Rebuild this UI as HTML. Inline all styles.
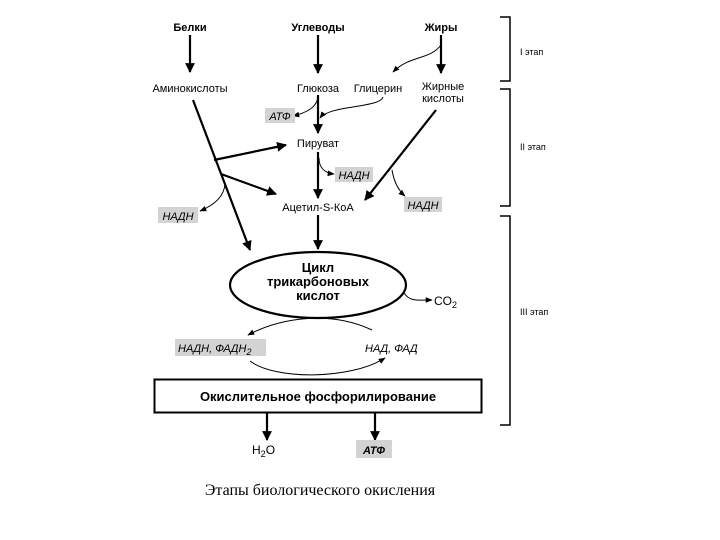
<!DOCTYPE html>
<html><head><meta charset="utf-8"><style>
html,body{margin:0;padding:0;background:#fff;}
svg{display:block;}
text{font-family:"Liberation Sans","DejaVu Sans",sans-serif;fill:#000;}
.b{font-weight:bold;}
.i{font-style:italic;}
</style></head><body>
<svg width="720" height="540" viewBox="0 0 720 540" xmlns="http://www.w3.org/2000/svg">
<defs>
<marker id="a" viewBox="0 0 10 10" refX="9" refY="5" markerWidth="4.5" markerHeight="4.5" orient="auto"><path d="M0,0L10,5L0,10z" fill="#000"/></marker>
<marker id="s" viewBox="0 0 10 10" refX="9" refY="5" markerWidth="7" markerHeight="7" orient="auto"><path d="M0,1L10,5L0,9z" fill="#000"/></marker>
</defs>
<g font-size="11">
<text x="190" y="31" text-anchor="middle" class="b">Белки</text>
<text x="318" y="31" text-anchor="middle" class="b">Углеводы</text>
<text x="441" y="31" text-anchor="middle" class="b">Жиры</text>
<text x="190" y="92" text-anchor="middle">Аминокислоты</text>
<text x="318" y="92" text-anchor="middle">Глюкоза</text>
<text x="378" y="92" text-anchor="middle">Глицерин</text>
<text x="443" y="90" text-anchor="middle">Жирные</text>
<text x="443" y="102" text-anchor="middle">кислоты</text>
<text x="318" y="147" text-anchor="middle">Пируват</text>
<text x="318" y="211" text-anchor="middle">Ацетил-S-КоА</text>
</g>
<g stroke="#000" fill="none">
<line x1="190" y1="35" x2="190" y2="72" stroke-width="2.2" marker-end="url(#a)"/>
<line x1="318" y1="35" x2="318" y2="73" stroke-width="2.2" marker-end="url(#a)"/>
<line x1="441" y1="35" x2="441" y2="73" stroke-width="2.2" marker-end="url(#a)"/>
<path d="M441,45 C430,60 410,55 393,72" stroke-width="1" marker-end="url(#s)"/>
<path d="M318,95 C318,108 305,113 293,116" stroke-width="1" marker-end="url(#s)"/>
<path d="M383,97 C380,108 330,105 320,118" stroke-width="1" marker-end="url(#s)"/>
<line x1="318" y1="95" x2="318" y2="133" stroke-width="2.2" marker-end="url(#a)"/>
<line x1="193" y1="100" x2="250" y2="250" stroke-width="2.2" marker-end="url(#a)"/>
<line x1="214" y1="160" x2="286" y2="145" stroke-width="2.2" marker-end="url(#a)"/>
<line x1="221" y1="174" x2="276" y2="194" stroke-width="2.2" marker-end="url(#a)"/>
<line x1="318" y1="152" x2="318" y2="198" stroke-width="2.2" marker-end="url(#a)"/>
<path d="M319,158 C319,168 325,173 334,174" stroke-width="1" marker-end="url(#s)"/>
<line x1="436" y1="110" x2="365" y2="200" stroke-width="2.2" marker-end="url(#a)"/>
<path d="M392,170 C394,182 398,190 405,196" stroke-width="1" marker-end="url(#s)"/>
<path d="M225,184 C224,198 212,206 200,211" stroke-width="1" marker-end="url(#s)"/>
<line x1="318" y1="215" x2="318" y2="249" stroke-width="2.2" marker-end="url(#a)"/>
<ellipse cx="318" cy="285" rx="88" ry="33" stroke-width="2.2"/>
<path d="M404,293 C410,302 418,300 432,300" stroke-width="1" marker-end="url(#s)"/>
<path d="M372,330 C330,310 280,318 248,335" stroke-width="1" marker-end="url(#s)"/>
<path d="M250,361 C275,380 350,380 385,358" stroke-width="1" marker-end="url(#s)"/>
<rect x="154.5" y="379.5" width="327" height="33" stroke-width="2"/>
<line x1="267" y1="413" x2="267" y2="440" stroke-width="2.2" marker-end="url(#a)"/>
<line x1="375" y1="413" x2="375" y2="440" stroke-width="2.2" marker-end="url(#a)"/>
<path d="M500,17 H510 V81 H500 M500,89 H510 V206 H500 M500,216 H510 V425 H500" stroke-width="1.5"/>
</g>
<g fill="#d3d3d3">
<rect x="265" y="108" width="30" height="15"/>
<rect x="335" y="167" width="38" height="15"/>
<rect x="404" y="197" width="38" height="15"/>
<rect x="158" y="207" width="40" height="16"/>
<rect x="175" y="339" width="91" height="17"/>
<rect x="356" y="440" width="36" height="18"/>
</g>
<g font-size="11" class="i">
<text x="280" y="120" text-anchor="middle" class="i">АТФ</text>
<text x="354" y="179" text-anchor="middle" class="i">НАДН</text>
<text x="423" y="209" text-anchor="middle" class="i">НАДН</text>
<text x="178" y="220" text-anchor="middle" class="i">НАДН</text>
<text x="178" y="352" class="i">НАДН, ФАДН<tspan font-size="9" dy="3">2</tspan></text>
<text x="365" y="352" class="i">НАД, ФАД</text>
<text x="374" y="454" text-anchor="middle" class="i b">АТФ</text>
</g>
<g font-size="13" class="b">
<text x="318" y="272" text-anchor="middle">Цикл</text>
<text x="318" y="286" text-anchor="middle">трикарбоновых</text>
<text x="318" y="300" text-anchor="middle">кислот</text>
<text x="318" y="401" text-anchor="middle">Окислительное фосфорилирование</text>
</g>
<text x="434" y="305" font-size="12">CO<tspan font-size="9" dy="3">2</tspan></text>
<text x="252" y="454" font-size="12">H<tspan font-size="9" dy="3">2</tspan><tspan dy="-3">O</tspan></text>
<g font-size="9">
<text x="520" y="55">I этап</text>
<text x="520" y="150">II этап</text>
<text x="520" y="315">III этап</text>
</g>
<text x="320" y="495" text-anchor="middle" font-size="16" style="font-family:'Liberation Serif',serif">Этапы биологического окисления</text>
</svg>
</body></html>
